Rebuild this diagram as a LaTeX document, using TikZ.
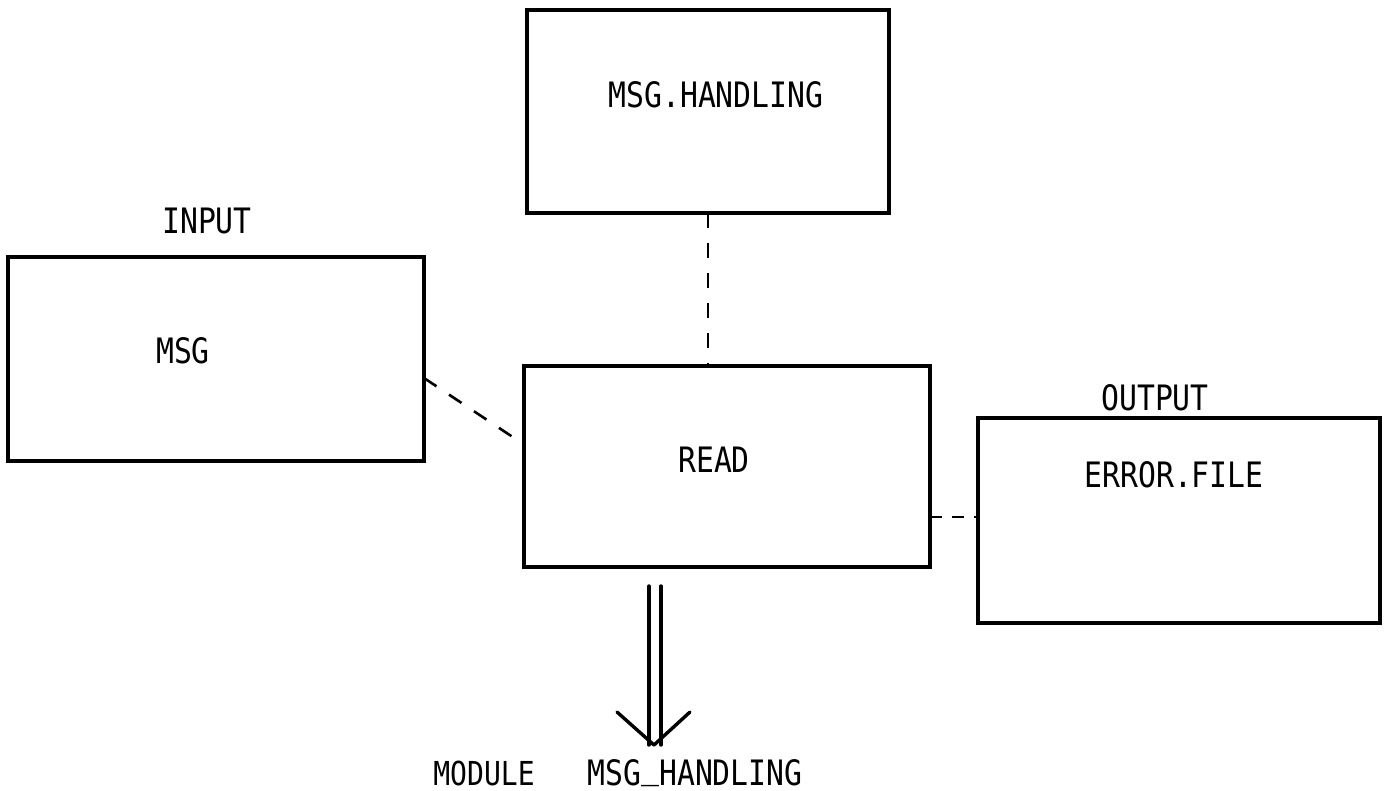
\documentclass[tikz,border=0pt]{standalone}
\usepackage{fontspec}
\setmainfont{DejaVu Sans Mono}[FakeStretch=0.85]
\begin{document}
\begin{tikzpicture}[x=1pt,y=-1pt,
  box/.style={draw,line width=3.2pt,minimum width=#1,inner sep=0pt,outer sep=0pt},
  lbl/.style={inner sep=0pt,font=\fontsize{35}{40}\selectfont},
  conn/.style={line width=2.6pt,dash pattern=on 15pt off 15pt},
  arr/.style={line width=3.4pt,line cap=round,line join=round}]
\useasboundingbox (0,0) rectangle (1384,791);
\node[box=362pt,minimum height=203pt] (mh) at (708,111.5) {};
\node[box=416pt,minimum height=204pt] (msg) at (216,359) {};
\node[box=406pt,minimum height=201pt] (read) at (727,466.5) {};
\node[box=402pt,minimum height=205pt] (err) at (1179,520.5) {};
\node[lbl] (tmh) at (716,95) {MSG.HANDLING};
\node[lbl] (tin) at (207,221) {INPUT};
\node[lbl] (tmsg) at (183,351) {MSG};
\node[lbl] (tread) at (714,460) {READ};
\node[lbl] (tout) at (1155,398) {OUTPUT};
\node[lbl] (terr) at (1174,475) {ERROR.FILE};
\node[lbl,anchor=base,font=\fontsize{33}{40}\selectfont] (tmod) at (484,785) {MODULE};
\node[lbl,anchor=base] (tmh2) at (695,785) {MSG\raisebox{7pt}{\_}HANDLING};
\draw[conn] (mh.south) -- (mh.south |- read.north);
\draw[conn] ([yshift=-19pt]msg.east) -- ([yshift=22pt]read.west);
\draw[conn,dash pattern=on 12pt off 10pt] ([yshift=-50.5pt]read.east) -- ([yshift=3.5pt]err.west);
\coordinate (a) at (655,586);
\coordinate (tip) at (654,745);
\draw[arr] ([xshift=-6pt]a) -- ([xshift=-6pt]a |- tip);
\draw[arr] ([xshift=6pt]a) -- ([xshift=6pt]a |- tip);
\draw[arr] (617,712) -- (tip) -- (690,712);
\end{tikzpicture}
\end{document}
